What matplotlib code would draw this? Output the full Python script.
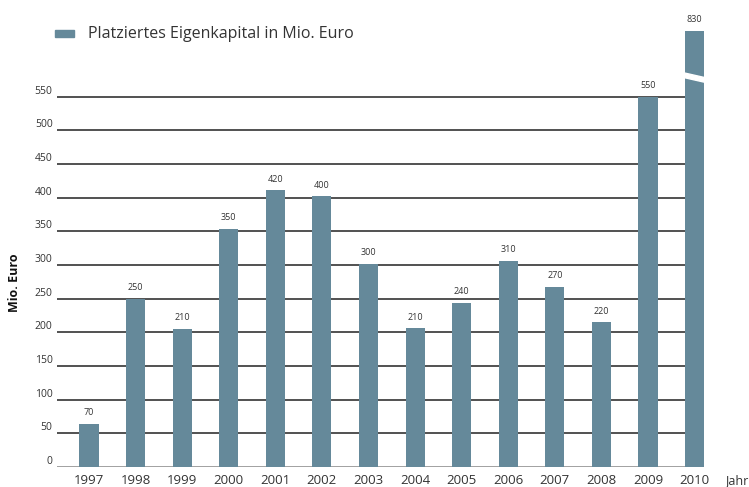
import numpy as np
import matplotlib
matplotlib.use("Agg")
from matplotlib import pyplot as plt

years = ['1997', '1998', '1999', '2000', '2001', '2002', '2003',
         '2004', '2005', '2006', '2007', '2008', '2009', '2010']
labels = ['70', '250', '210', '350', '420', '400', '300',
          '210', '240', '310', '270', '220', '550', '830']
# bar heights as drawn (last bar is broken, drawn shortened)
heights = [64, 250, 205, 354, 411, 402, 302, 206, 244, 306, 268, 215, 550, 648]
yticks = [0, 50, 100, 150, 200, 250, 300, 350, 400, 450, 500, 550]

bar_color = '#65899a'
text_color = '#333333'

plt.rcParams['font.family'] = ['Open Sans', 'DejaVu Sans']

fig = plt.figure(figsize=(7.49, 4.87), dpi=100)
ax = fig.add_axes([0.0761, 0.0411, 0.8718, 0.9384])
ax.set_xlim(-0.687, 13.33)
ax.set_ylim(0, 679)

x = np.arange(len(years))
w = 0.41

# grid lines stop at the last bar
for t in yticks:
    col = '#888888' if t == 0 else '#222222'
    ax.plot([-0.687, x[-1] - w / 2], [t, t], color=col, lw=1.1, zorder=1)

ax.bar(x, heights, width=w, color=bar_color, zorder=2)

# break in the last bar
xl = x[-1] - w / 2 - 0.05
xr = x[-1] + w / 2 + 0.05
ax.fill([xl, xr, xr, xl], [586, 578, 571, 579], color='white', zorder=3)

for xi, h, lab in zip(x, heights, labels):
    ax.text(xi, h + 10, lab, ha='center', va='bottom', fontsize=6.5, color=text_color)

for t in yticks:
    ax.text(-0.78, t, str(t), ha='right', va='bottom', fontsize=7.5, color=text_color)

for xi, y in zip(x, years):
    ax.text(xi, -10, y, ha='center', va='top', fontsize=9.5, color=text_color)

ax.text(13.91, -10, 'Jahr', ha='center', va='top', fontsize=9, color=text_color)
fig.text(0.02, 0.42, 'Mio. Euro', rotation=90, ha='center', va='center',
         fontsize=9, fontweight='bold', color='#111111')

# legend
fig.patches.append(plt.Rectangle((0.073, 0.925), 0.026, 0.013, color=bar_color,
                                 transform=fig.transFigure, figure=fig))
fig.text(0.118, 0.931, 'Platziertes Eigenkapital in Mio. Euro', ha='left', va='center',
         fontsize=11.5, color=text_color)

ax.axis('off')
fig.savefig('out.png', dpi=100)
